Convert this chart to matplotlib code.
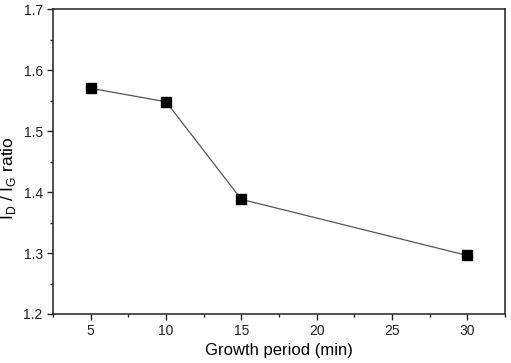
import numpy as np
import matplotlib.pyplot as plt
from matplotlib.ticker import MultipleLocator

plt.rcParams['font.family'] = ['Liberation Sans', 'DejaVu Sans']

# growth period (min) vs Raman ID/IG ratio
growth_time = [5, 10, 15, 30]
id_ig_ratio = [1.570, 1.548, 1.388, 1.296]

fig = plt.figure(figsize=(5.11, 3.63), dpi=100)
ax = fig.add_axes([0.104, 0.135, 0.884, 0.840])

ax.plot(growth_time, id_ig_ratio, color='#555555', linewidth=0.9,
        marker='s', markersize=7.5, markerfacecolor='black',
        markeredgecolor='black', zorder=3)

ax.set_xlim(2.5, 32.5)
ax.set_ylim(1.2, 1.7)
ax.xaxis.set_major_locator(MultipleLocator(5))
ax.xaxis.set_minor_locator(MultipleLocator(2.5))
ax.yaxis.set_major_locator(MultipleLocator(0.1))
ax.yaxis.set_minor_locator(MultipleLocator(0.05))
ax.set_yticklabels([f'{v:.1f}' for v in ax.get_yticks()])

for s in ax.spines.values():
    s.set_linewidth(1.1)
    s.set_color('#222222')
ax.tick_params(which='major', direction='out', length=4, width=1, labelsize=10, colors='#222222')
ax.tick_params(which='minor', direction='out', length=2.5, width=1, colors='#222222')

ax.set_xlabel('Growth period (min)', fontsize=12, labelpad=3)
ax.set_ylabel(r'I$_\mathregular{D}$ / I$_\mathregular{G}$ ratio', fontsize=12.5)
ax.yaxis.set_label_coords(-0.078, 0.445)

fig.savefig('out.png', dpi=100)
